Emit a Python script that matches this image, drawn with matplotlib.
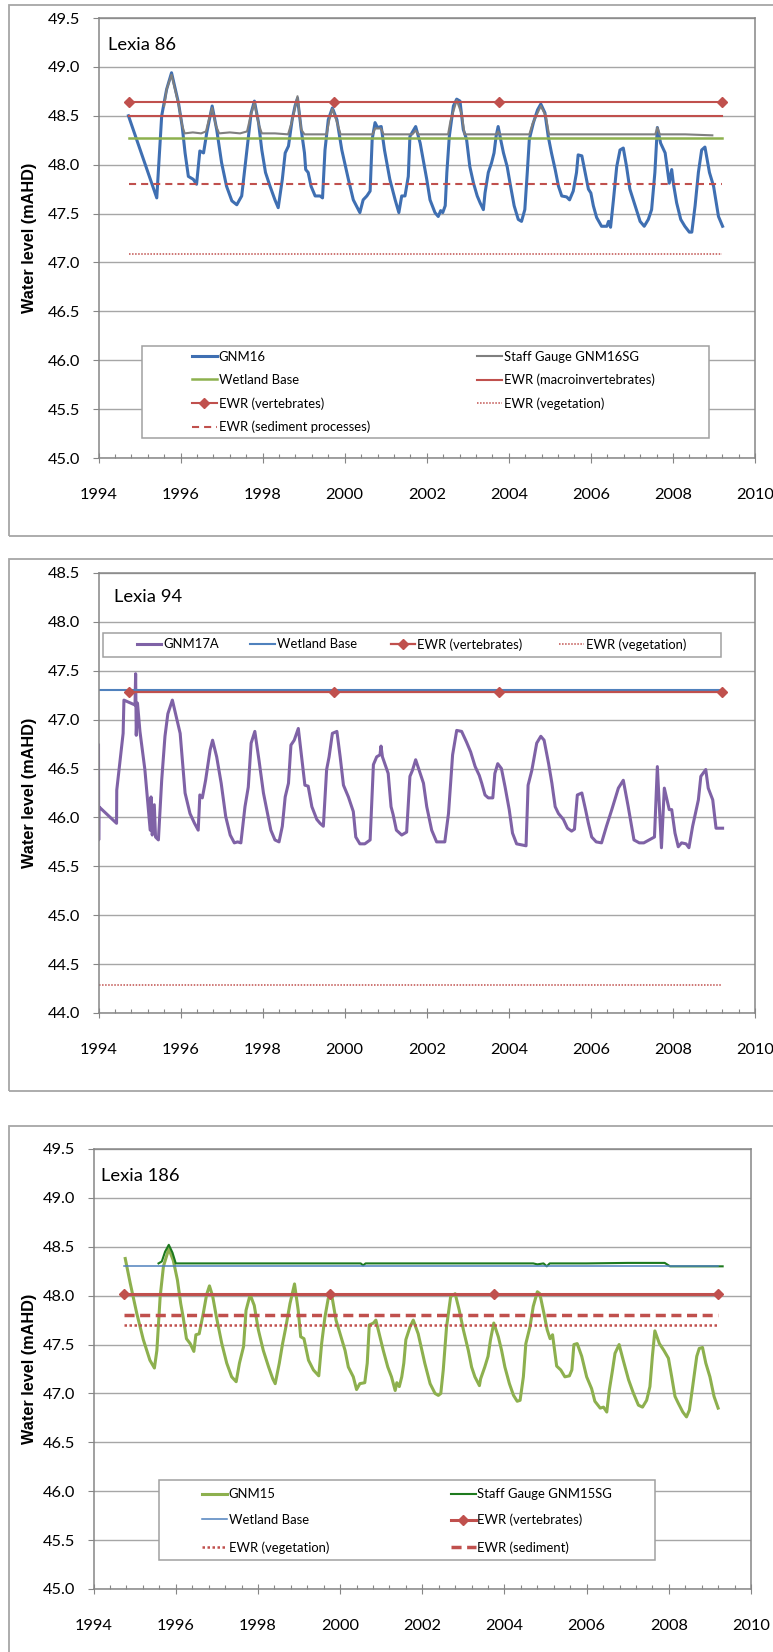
import matplotlib
matplotlib.use('Agg')
import matplotlib.pyplot as plt
from matplotlib.patches import Rectangle
from matplotlib.ticker import MultipleLocator, FormatStrFormatter

plt.rcParams['font.family'] = ['Lato', 'DejaVu Sans']

# ---------------- data ----------------
# Lexia 86
gnm16_year = [1994.73, 1995.42, 1995.54, 1995.66, 1995.78, 1995.95, 1996.04, 1996.11, 1996.19, 1996.31,
              1996.39, 1996.47, 1996.56, 1996.64, 1996.77, 1996.88, 1997.00, 1997.12, 1997.25, 1997.37,
              1997.49, 1997.61, 1997.72, 1997.80, 1997.90, 1997.98, 1998.07, 1998.18, 1998.30, 1998.38,
              1998.48, 1998.55, 1998.63, 1998.72, 1998.79, 1998.85, 1998.94, 1999.02, 1999.05, 1999.11,
              1999.18, 1999.28, 1999.40, 1999.46, 1999.52, 1999.60, 1999.70, 1999.81, 1999.93, 2000.09,
              2000.21, 2000.37, 2000.45, 2000.54, 2000.62, 2000.67, 2000.74, 2000.80, 2000.89, 2000.97,
              2001.10, 2001.23, 2001.32, 2001.39, 2001.47, 2001.55, 2001.59, 2001.73, 2001.84, 2002.00,
              2002.08, 2002.20, 2002.28, 2002.34, 2002.39, 2002.45, 2002.49, 2002.55, 2002.65, 2002.73,
              2002.81, 2002.89, 2002.97, 2003.05, 2003.14, 2003.23, 2003.30, 2003.38, 2003.42, 2003.50,
              2003.58, 2003.64, 2003.69, 2003.74, 2003.80, 2003.87, 2003.96, 2004.03, 2004.13, 2004.23,
              2004.31, 2004.39, 2004.45, 2004.50, 2004.60, 2004.70, 2004.78, 2004.88, 2004.96, 2005.04,
              2005.13, 2005.21, 2005.29, 2005.41, 2005.48, 2005.57, 2005.65, 2005.69, 2005.78, 2005.86,
              2005.94, 2006.00, 2006.06, 2006.14, 2006.26, 2006.39, 2006.43, 2006.48, 2006.55, 2006.63,
              2006.71, 2006.79, 2006.87, 2006.95, 2007.08, 2007.20, 2007.30, 2007.40, 2007.48, 2007.56,
              2007.62, 2007.70, 2007.81, 2007.91, 2007.97, 2008.01, 2008.09, 2008.19, 2008.29, 2008.40,
              2008.46, 2008.54, 2008.62, 2008.70, 2008.78, 2008.89, 2008.99, 2009.11, 2009.21]
gnm16_level = [48.50, 47.66, 48.50, 48.77, 48.94, 48.63, 48.39, 48.12, 47.88, 47.85,
               47.80, 48.14, 48.12, 48.33, 48.60, 48.36, 48.02, 47.78, 47.63, 47.59,
               47.68, 48.12, 48.53, 48.65, 48.43, 48.15, 47.92, 47.78, 47.64, 47.56,
               47.85, 48.12, 48.19, 48.46, 48.60, 48.68, 48.36, 48.12, 47.95, 47.92,
               47.78, 47.68, 47.68, 47.66, 48.15, 48.46, 48.58, 48.46, 48.15, 47.85,
               47.64, 47.51, 47.64, 47.68, 47.73, 48.26, 48.43, 48.38, 48.39, 48.15,
               47.85, 47.64, 47.51, 47.68, 47.68, 47.88, 48.29, 48.39, 48.22, 47.85,
               47.64, 47.51, 47.47, 47.53, 47.51, 47.58, 47.92, 48.29, 48.60, 48.67,
               48.65, 48.36, 48.26, 47.98, 47.81, 47.68, 47.61, 47.54, 47.71, 47.92,
               48.02, 48.12, 48.29, 48.39, 48.26, 48.12, 47.98, 47.81, 47.58, 47.44,
               47.42, 47.54, 47.92, 48.26, 48.43, 48.56, 48.62, 48.53, 48.29, 48.12,
               47.95, 47.78, 47.68, 47.67, 47.64, 47.73, 47.92, 48.10, 48.09, 47.92,
               47.75, 47.71, 47.58, 47.46, 47.37, 47.37, 47.42, 47.36, 47.64, 47.98,
               48.15, 48.17, 47.98, 47.75, 47.58, 47.42, 47.37, 47.44, 47.54, 47.92,
               48.38, 48.22, 48.12, 47.81, 47.95, 47.81, 47.61, 47.44, 47.37, 47.31,
               47.31, 47.58, 47.92, 48.15, 48.18, 47.92, 47.78, 47.47, 47.37]
gnm16sg_year = [1995.60, 1995.66, 1995.78, 1995.95, 1996.04, 1996.10, 1996.30, 1996.50, 1996.62, 1996.70,
                1996.77, 1996.86, 1996.94, 1997.20, 1997.45, 1997.62, 1997.72, 1997.80, 1997.90, 1997.98,
                1998.30, 1998.62, 1998.72, 1998.85, 1998.94, 1999.02, 1999.30, 1999.56, 1999.62, 1999.70,
                1999.80, 1999.90, 2000.30, 2000.68, 2000.74, 2000.88, 2000.95, 2001.30, 2001.65, 2001.73,
                2001.80, 2002.20, 2002.52, 2002.58, 2002.73, 2002.85, 2002.92, 2003.30, 2003.70, 2003.74,
                2003.78, 2004.20, 2004.50, 2004.58, 2004.78, 2004.90, 2004.98, 2006.00, 2007.00, 2007.57,
                2007.62, 2007.68, 2008.30, 2008.96]
gnm16sg_level = [48.60, 48.77, 48.92, 48.62, 48.40, 48.32, 48.33, 48.32, 48.34, 48.48,
                 48.58, 48.40, 48.32, 48.33, 48.32, 48.34, 48.52, 48.63, 48.42, 48.32,
                 48.32, 48.31, 48.45, 48.70, 48.36, 48.31, 48.31, 48.31, 48.45, 48.57,
                 48.45, 48.31, 48.31, 48.31, 48.37, 48.37, 48.31, 48.31, 48.31, 48.35,
                 48.31, 48.31, 48.31, 48.45, 48.66, 48.52, 48.31, 48.31, 48.31, 48.34,
                 48.31, 48.31, 48.31, 48.42, 48.60, 48.50, 48.31, 48.31, 48.31, 48.31,
                 48.38, 48.31, 48.31, 48.30]

# Lexia 94
gnm17a_year = [1994.00, 1994.005, 1994.01, 1994.44, 1994.445, 1994.60, 1994.62, 1994.89, 1994.905, 1994.92,
               1994.95, 1995.01, 1995.13, 1995.26, 1995.28, 1995.31, 1995.36, 1995.39, 1995.46, 1995.54,
               1995.62, 1995.69, 1995.80, 1995.99, 1996.11, 1996.23, 1996.34, 1996.43, 1996.47, 1996.53,
               1996.61, 1996.72, 1996.78, 1996.88, 1996.99, 1997.10, 1997.21, 1997.31, 1997.39, 1997.47,
               1997.57, 1997.65, 1997.72, 1997.81, 1997.91, 1998.02, 1998.10, 1998.20, 1998.30, 1998.40,
               1998.48, 1998.55, 1998.63, 1998.69, 1998.77, 1998.87, 1998.95, 1999.03, 1999.11, 1999.20,
               1999.32, 1999.40, 1999.48, 1999.56, 1999.62, 1999.70, 1999.81, 1999.89, 1999.97, 2000.09,
               2000.21, 2000.27, 2000.37, 2000.49, 2000.62, 2000.70, 2000.78, 2000.86, 2000.885, 2000.92,
               2001.06, 2001.13, 2001.18, 2001.26, 2001.39, 2001.51, 2001.59, 2001.65, 2001.73, 2001.84,
               2001.92, 2002.00, 2002.12, 2002.24, 2002.44, 2002.53, 2002.63, 2002.73, 2002.85, 2002.97,
               2003.07, 2003.18, 2003.28, 2003.34, 2003.42, 2003.50, 2003.61, 2003.66, 2003.73, 2003.82,
               2003.91, 2004.01, 2004.09, 2004.19, 2004.31, 2004.42, 2004.47, 2004.56, 2004.68, 2004.78,
               2004.86, 2004.97, 2005.05, 2005.13, 2005.21, 2005.33, 2005.43, 2005.53, 2005.60, 2005.67,
               2005.78, 2005.87, 2005.94, 2006.02, 2006.13, 2006.26, 2006.38, 2006.51, 2006.67, 2006.79,
               2006.91, 2007.05, 2007.18, 2007.29, 2007.42, 2007.55, 2007.62, 2007.72, 2007.79, 2007.91,
               2007.97, 2008.05, 2008.13, 2008.21, 2008.32, 2008.39, 2008.48, 2008.62, 2008.68, 2008.80,
               2008.86, 2008.97, 2009.05, 2009.21]
gnm17a_level = [46.74, 45.77, 46.11, 45.94, 46.28, 46.86, 47.20, 47.15, 47.47, 46.84,
                47.17, 46.88, 46.49, 45.87, 46.21, 45.82, 46.13, 45.80, 45.77, 46.38,
                46.83, 47.06, 47.20, 46.86, 46.25, 46.04, 45.94, 45.87, 46.23, 46.20,
                46.38, 46.69, 46.79, 46.62, 46.35, 46.01, 45.82, 45.74, 45.75, 45.74,
                46.11, 46.31, 46.76, 46.88, 46.59, 46.25, 46.08, 45.87, 45.77, 45.75,
                45.91, 46.21, 46.35, 46.74, 46.79, 46.91, 46.62, 46.33, 46.32, 46.11,
                45.98, 45.94, 45.91, 46.49, 46.62, 46.86, 46.88, 46.62, 46.33, 46.21,
                46.06, 45.80, 45.73, 45.73, 45.77, 46.54, 46.62, 46.64, 46.73, 46.62,
                46.45, 46.11, 46.03, 45.87, 45.82, 45.85, 46.42, 46.48, 46.59, 46.45,
                46.35, 46.11, 45.87, 45.75, 45.75, 46.04, 46.64, 46.89, 46.88, 46.77,
                46.67, 46.52, 46.43, 46.35, 46.23, 46.20, 46.20, 46.45, 46.55, 46.50,
                46.31, 46.08, 45.84, 45.73, 45.72, 45.71, 46.33, 46.48, 46.76, 46.83,
                46.79, 46.55, 46.35, 46.11, 46.04, 45.98, 45.89, 45.86, 45.88, 46.23,
                46.25, 46.08, 45.94, 45.80, 45.75, 45.74, 45.91, 46.08, 46.30, 46.38,
                46.11, 45.77, 45.74, 45.74, 45.77, 45.80, 46.52, 45.69, 46.30, 46.08,
                46.08, 45.84, 45.70, 45.74, 45.73, 45.69, 45.91, 46.18, 46.42, 46.49,
                46.30, 46.18, 45.89, 45.89]

# Lexia 186
gnm15_year = [1994.77, 1994.89, 1995.05, 1995.21, 1995.37, 1995.48, 1995.54, 1995.62, 1995.70, 1995.83,
              1995.94, 1996.04, 1996.12, 1996.18, 1996.26, 1996.35, 1996.44, 1996.49, 1996.57, 1996.67,
              1996.75, 1996.82, 1996.90, 1996.99, 1997.12, 1997.24, 1997.36, 1997.47, 1997.55, 1997.65,
              1997.71, 1997.81, 1997.91, 1998.01, 1998.13, 1998.26, 1998.36, 1998.42, 1998.52, 1998.60,
              1998.68, 1998.78, 1998.89, 1998.98, 1999.04, 1999.12, 1999.23, 1999.35, 1999.48, 1999.55,
              1999.63, 1999.71, 1999.79, 1999.90, 2000.00, 2000.12, 2000.20, 2000.32, 2000.40, 2000.48,
              2000.60, 2000.66, 2000.71, 2000.81, 2000.87, 2000.97, 2001.05, 2001.16, 2001.25, 2001.34,
              2001.38, 2001.44, 2001.50, 2001.55, 2001.60, 2001.70, 2001.78, 2001.90, 2002.06, 2002.19,
              2002.31, 2002.39, 2002.45, 2002.51, 2002.59, 2002.69, 2002.80, 2002.90, 2003.00, 2003.12,
              2003.20, 2003.28, 2003.39, 2003.42, 2003.52, 2003.60, 2003.66, 2003.74, 2003.85, 2003.93,
              2004.01, 2004.12, 2004.22, 2004.31, 2004.38, 2004.46, 2004.52, 2004.62, 2004.70, 2004.80,
              2004.86, 2004.96, 2005.04, 2005.11, 2005.17, 2005.23, 2005.27, 2005.37, 2005.47, 2005.58,
              2005.64, 2005.69, 2005.77, 2005.88, 2006.00, 2006.12, 2006.20, 2006.33, 2006.41, 2006.49,
              2006.55, 2006.63, 2006.69, 2006.79, 2006.89, 2007.02, 2007.14, 2007.26, 2007.36, 2007.46,
              2007.54, 2007.60, 2007.66, 2007.77, 2007.88, 2007.99, 2008.07, 2008.15, 2008.23, 2008.34,
              2008.43, 2008.50, 2008.58, 2008.68, 2008.74, 2008.82, 2008.90, 2009.00, 2009.10, 2009.20]
gnm15_level = [48.38, 48.13, 47.82, 47.55, 47.34, 47.26, 47.44, 47.99, 48.30, 48.48,
               48.36, 48.16, 47.92, 47.78, 47.56, 47.51, 47.43, 47.60, 47.61, 47.82,
               48.01, 48.10, 47.99, 47.78, 47.51, 47.31, 47.17, 47.12, 47.31, 47.48,
               47.85, 48.01, 47.90, 47.65, 47.44, 47.27, 47.15, 47.10, 47.31, 47.51,
               47.68, 47.92, 48.12, 47.85, 47.58, 47.56, 47.34, 47.24, 47.18, 47.51,
               47.78, 47.97, 48.02, 47.75, 47.61, 47.44, 47.27, 47.17, 47.04, 47.10,
               47.11, 47.31, 47.70, 47.72, 47.75, 47.58, 47.44, 47.27, 47.17, 47.03,
               47.11, 47.07, 47.17, 47.31, 47.55, 47.68, 47.75, 47.61, 47.31, 47.10,
               47.00, 46.98, 47.00, 47.24, 47.68, 47.99, 48.02, 47.85, 47.65, 47.44,
               47.27, 47.17, 47.08, 47.15, 47.27, 47.38, 47.55, 47.72, 47.58, 47.44,
               47.27, 47.10, 46.98, 46.92, 46.93, 47.17, 47.51, 47.68, 47.89, 48.04,
               48.02, 47.82, 47.65, 47.56, 47.60, 47.41, 47.28, 47.24, 47.17, 47.18,
               47.24, 47.50, 47.51, 47.38, 47.17, 47.05, 46.92, 46.85, 46.86, 46.81,
               47.03, 47.24, 47.41, 47.50, 47.34, 47.14, 47.00, 46.88, 46.86, 46.93,
               47.07, 47.38, 47.64, 47.51, 47.44, 47.36, 47.17, 46.97, 46.90, 46.81,
               46.76, 46.83, 47.07, 47.38, 47.46, 47.47, 47.31, 47.17, 46.97, 46.85]
gnm15sg_year = [1995.58, 1995.66, 1995.74, 1995.83, 1995.92, 1996.00, 1997.00, 1998.00, 1999.00, 2000.50,
                2000.56, 2000.62, 2002.00, 2003.50, 2004.70, 2004.80, 2004.95, 2005.03, 2005.10, 2006.00,
                2007.00, 2007.90, 2008.03, 2009.31]
gnm15sg_level = [48.33, 48.35, 48.45, 48.52, 48.44, 48.33, 48.33, 48.33, 48.33, 48.33,
                 48.31, 48.33, 48.33, 48.33, 48.33, 48.32, 48.33, 48.30, 48.33, 48.33,
                 48.335, 48.335, 48.30, 48.30]

# EWR / wetland base levels (constant series)
ewr_year = [1994.75, 1999.75, 2003.75, 2009.2]
p1_ewr_vert, p1_ewr_macro, p1_base, p1_ewr_sed, p1_ewr_veg = 48.64, 48.50, 48.27, 47.80, 47.09
p2_base_year = [1994.0, 2009.2]
p2_base, p2_ewr_vert, p2_ewr_veg = 47.30, 47.28, 44.29
p3_base, p3_ewr_vert, p3_ewr_sed, p3_ewr_veg = 48.30, 48.02, 47.80, 47.70

# ---------------- figure ----------------
W, H = 773, 1652
fig = plt.figure(figsize=(W / 100, H / 100), dpi=100)

RED = '#C0504D'
AXC = '#868686'


def fx(x):
    return x / W


def fy(y):
    return 1 - y / H


def make_axes(left, top, right, bottom, ymin, ymax, title, title_xy):
    ax = fig.add_axes([fx(left), fy(bottom), (right - left) / W, (bottom - top) / H])
    ax.set_xlim(1994, 2010)
    ax.set_ylim(ymin, ymax)
    ax.xaxis.set_major_locator(MultipleLocator(2))
    ax.xaxis.set_minor_locator(MultipleLocator(0.4))
    ax.yaxis.set_major_locator(MultipleLocator(0.5))
    ax.yaxis.set_major_formatter(FormatStrFormatter('%.1f'))
    ax.xaxis.set_major_formatter(FormatStrFormatter('%d'))
    ax.grid(axis='y', color='#A6A6A6', lw=1.0)
    ax.set_axisbelow(True)
    for s in ax.spines.values():
        s.set_color(AXC)
        s.set_linewidth(1.1)
    ax.tick_params(axis='y', direction='out', length=4.3, width=0.8, color=AXC, pad=9, labelsize=11.8)
    ax.tick_params(axis='x', which='major', direction='inout', length=7.2, width=0.8, color=AXC,
                   pad=18, labelsize=11.8)
    ax.tick_params(axis='x', which='minor', direction='in', length=2.9, width=0.8, color=AXC)
    ax.set_ylabel('Water level (mAHD)', fontfamily='Liberation Sans', fontweight='bold',
                  fontsize=11.7, va='center')
    ax.yaxis.set_label_coords((29.5 - left) / (right - left), 0.5)
    ax.text(title_xy[0], title_xy[1], title, transform=ax.transAxes, fontsize=13.2,
            ha='left', va='center')
    return ax


def outer_box(top, bottom):
    fig.add_artist(Rectangle((fx(9), fy(bottom)), (820 - 9) / W, (bottom - top) / H,
                             transform=fig.transFigure, fill=False, ec='#A6A6A6', lw=1.3))


def legend_box(x0, y0, x1, y1):
    fig.add_artist(Rectangle((fx(x0), fy(y1)), (x1 - x0) / W, (y1 - y0) / H,
                             transform=fig.transFigure, fc='white', ec='#A0A0A0', lw=1.1, zorder=2))


def legend_item(handle, label, x, y):
    fig.legend([handle], [label], loc='center left', bbox_to_anchor=(fx(x), fy(y)),
               bbox_transform=fig.transFigure, frameon=False, borderpad=0, borderaxespad=0,
               handlelength=1.9, handletextpad=0.15, fontsize=9.4, numpoints=1)


outer_box(5, 536)
outer_box(559, 1091)
outer_box(1126, 1720)

# ---- Lexia 86 ----
ax1 = make_axes(98.5, 18, 755, 458, 45.0, 49.5, 'Lexia 86', (0.0145, 0.9395))
h_gnm16, = ax1.plot(gnm16_year, gnm16_level, color='#3F6FB2', lw=2.2)
h_sg16, = ax1.plot(gnm16sg_year, gnm16sg_level, color='#7F7F7F', lw=1.5)
h_base1, = ax1.plot(ewr_year, [p1_base] * 4, color='#8DB14E', lw=1.8)
h_macro, = ax1.plot(ewr_year, [p1_ewr_macro] * 4, color=RED, lw=1.5)
h_vert1, = ax1.plot(ewr_year, [p1_ewr_vert] * 4, color=RED, lw=1.5, marker='D', ms=5)
h_veg1, = ax1.plot(ewr_year, [p1_ewr_veg] * 4, color=RED, lw=1.1, ls=(0, (1, 1)))
h_sed1, = ax1.plot(ewr_year, [p1_ewr_sed] * 4, color=RED, lw=1.5, ls=(0, (3.4, 2.4)))

legend_box(142, 346, 709, 437.5)
legend_item(h_gnm16, 'GNM16', 192, 357)
legend_item(h_sg16, 'Staff Gauge GNM16SG', 477, 357)
legend_item(h_base1, 'Wetland Base', 192, 380)
legend_item(h_macro, 'EWR (macroinvertebrates)', 477, 380)
legend_item(h_vert1, 'EWR (vertebrates)', 192, 403.6)
legend_item(h_veg1, 'EWR (vegetation)', 477, 403.6)
legend_item(h_sed1, 'EWR (sediment processes)', 192, 427)

# ---- Lexia 94 ----
ax2 = make_axes(98.5, 573, 755, 1013, 44.0, 48.5, 'Lexia 94', (0.0236, 0.945))
h_gnm17, = ax2.plot(gnm17a_year, gnm17a_level, color='#7F62A6', lw=2.2)
h_base2, = ax2.plot(p2_base_year, [p2_base] * 2, color='#4F81BD', lw=1.5)
h_vert2, = ax2.plot(ewr_year, [p2_ewr_vert] * 4, color=RED, lw=1.6, marker='D', ms=5)
h_veg2, = ax2.plot(p2_base_year, [p2_ewr_veg] * 2, color=RED, lw=1.1, ls=(0, (1, 1)))

legend_box(103.4, 632.6, 720.7, 657)
legend_item(h_gnm17, 'GNM17A', 136.5, 644.5)
legend_item(h_base2, 'Wetland Base', 250, 644.5)
legend_item(h_vert2, 'EWR (vertebrates)', 390.6, 644.5)
legend_item(h_veg2, 'EWR (vegetation)', 559, 644.5)

# ---- Lexia 186 ----
ax3 = make_axes(93.6, 1149, 751, 1589, 45.0, 49.5, 'Lexia 186', (0.011, 0.9386))
h_gnm15, = ax3.plot(gnm15_year, gnm15_level, color='#8DB04E', lw=2.2)
h_sg15, = ax3.plot(gnm15sg_year, gnm15sg_level, color='#1E7A1E', lw=1.5)
h_base3, = ax3.plot(ewr_year, [p3_base] * 4, color='#4F81BD', lw=1.1)
h_vert3, = ax3.plot(ewr_year, [p3_ewr_vert] * 4, color=RED, lw=2.2, marker='D', ms=5.5)
h_veg3, = ax3.plot(ewr_year, [p3_ewr_veg] * 4, color=RED, lw=1.8, ls=(0, (1, 1)))
h_sed3, = ax3.plot(ewr_year, [p3_ewr_sed] * 4, color=RED, lw=2.5, ls=(0, (2.9, 1.6)))

legend_box(158.6, 1480, 655, 1560)
legend_item(h_gnm15, 'GNM15', 202, 1494.3)
legend_item(h_sg15, 'Staff Gauge GNM15SG', 450.7, 1494.3)
legend_item(h_base3, 'Wetland Base', 202, 1520)
legend_item(h_vert3, 'EWR (vertebrates)', 450.7, 1520)
legend_item(h_veg3, 'EWR (vegetation)', 202, 1547.3)
legend_item(h_sed3, 'EWR (sediment)', 450.7, 1547.3)

fig.savefig('out.png', dpi=100)
